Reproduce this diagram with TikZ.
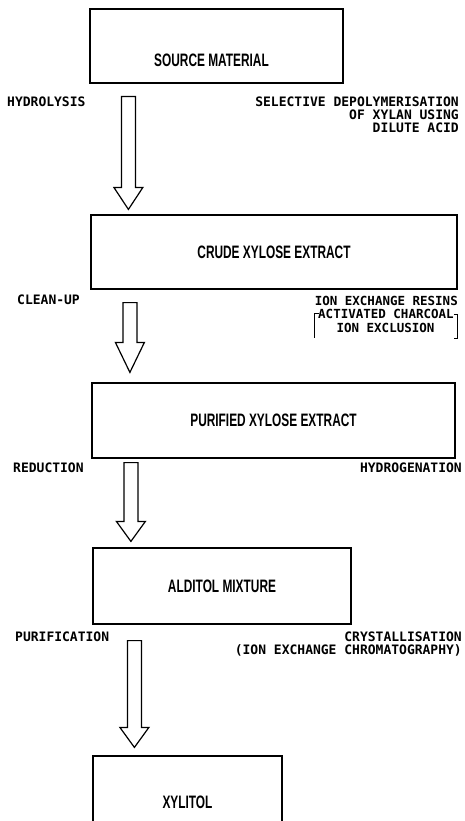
\documentclass[tikz,border=0pt]{standalone}
\usepackage{fontspec}
\newfontfamily\boxfont[FakeStretch=0.66]{Liberation Sans}
\newfontfamily\typefont{DejaVu Sans Mono}
\usetikzlibrary{calc,positioning}

% hollow block arrow: shaft top, tip, head length
\newcommand{\hollowarrow}[3]{%
  \draw[flowarrow] ($(#1)+(-7,0)$) -- ($(#2)+(-7,-#3)$) -- ($(#2)+(-14.5,-#3)$) -- (#2)
    -- ($(#2)+(14.5,-#3)$) -- ($(#2)+(7,-#3)$) -- ($(#1)+(7,0)$) -- cycle;}

\begin{document}
\begin{tikzpicture}[x=1pt,y=-1pt]
  \useasboundingbox (0,0) rectangle (464,821);
  \tikzset{
    procbox/.style={rectangle,draw=black,line width=1.2pt,inner sep=0pt,
      font=\fontsize{18}{18}\boxfont\bfseries},
    boxlabel/.style={inner sep=0pt,font=\fontsize{18}{18}\boxfont\bfseries},
    % arrow style
    flowarrow/.style={draw=black,line width=1.2pt,line join=miter},
    %label styles
    stepnote/.style={inner sep=0pt,anchor=west,font=\fontsize{13}{13}\typefont\bfseries},
    condnote/.style={inner sep=0pt,anchor=east,align=right,font=\fontsize{13}{13}\typefont\bfseries},
    smallnote/.style={inner sep=0pt,font=\fontsize{12.5}{13}\typefont\bfseries},
    bracket/.style={draw=black,line width=1pt}
  }

  %%% Process boxes

  \node[procbox, minimum width=253pt, minimum height=74pt] (source) at (216.5,46) {};
  \node[boxlabel] (sourcetxt) at ($(source.center)+(-5,14)$) {SOURCE MATERIAL};
  \node[procbox, minimum width=366pt, minimum height=74pt] (crude) at (274,252) {CRUDE XYLOSE EXTRACT};
  \node[procbox, minimum width=363pt, minimum height=75pt] (purified) at (273.5,420.5) {PURIFIED XYLOSE EXTRACT};
  \node[procbox, minimum width=258pt, minimum height=76pt] (alditol) at (222,586) {ALDITOL MIXTURE};
  \node[procbox, minimum width=189pt, minimum height=92pt] (xylitol) at (187.5,802) {XYLITOL};

  %%% Arrows between boxes

  \coordinate (a1top) at ($(source.south west)+(39,13)$);
  \coordinate (a1tip) at ($(crude.north west)+(38,-5)$);
  \coordinate (a2top) at ($(crude.south west)+(39.5,13)$);
  \coordinate (a2tip) at ($(purified.north west)+(38.5,-10)$);
  \coordinate (a3top) at ($(purified.south west)+(39.5,4)$);
  \coordinate (a3tip) at ($(alditol.north west)+(38.5,-6)$);
  \coordinate (a4top) at ($(alditol.south west)+(42,16)$);
  \coordinate (a4tip) at ($(xylitol.north west)+(42,-8)$);

  \hollowarrow{a1top}{a1tip}{22}
  \hollowarrow{a2top}{a2tip}{30}
  \hollowarrow{a3top}{a3tip}{20}
  \hollowarrow{a4top}{a4tip}{20}

  %%% Step labels (left)

  \node[stepnote] (hydro) at (7,102) {HYDROLYSIS};
  \node[stepnote] (cleanup) at (17,300) {CLEAN-UP};
  \node[stepnote] (reduct) at (13,468) {REDUCTION};
  \node[stepnote] (purif) at (15,637) {PURIFICATION};

  %%% Conditions (right)

  \node[condnote] (depol) at (459,115) {SELECTIVE DEPOLYMERISATION\\OF XYLAN USING\\DILUTE ACID};

  \node[smallnote, anchor=east] (resins) at (458,301) {ION EXCHANGE RESINS};
  \node[smallnote, anchor=west] (charcoal) at (318,314) {ACTIVATED CHARCOAL};
  \node[smallnote] (exclusion) at (385.5,328) {ION EXCLUSION};
  \draw[bracket] ($(charcoal.west)+(1,-1)$) -- ($(charcoal.west)+(-4,-1)$) -- ($(charcoal.west)+(-4,24)$);
  \draw[bracket] ($(charcoal.east)+(0,0)$) -- ($(charcoal.east)+(4,0)$)
    -- ($(charcoal.east)+(4,24)$) -- ($(charcoal.east)+(0,24)$);

  \node[condnote] (hydrog) at (462,468) {HYDROGENATION};
  \node[condnote] (cryst) at (462,644) {CRYSTALLISATION\\(ION EXCHANGE CHROMATOGRAPHY)};

\end{tikzpicture}
\end{document}
